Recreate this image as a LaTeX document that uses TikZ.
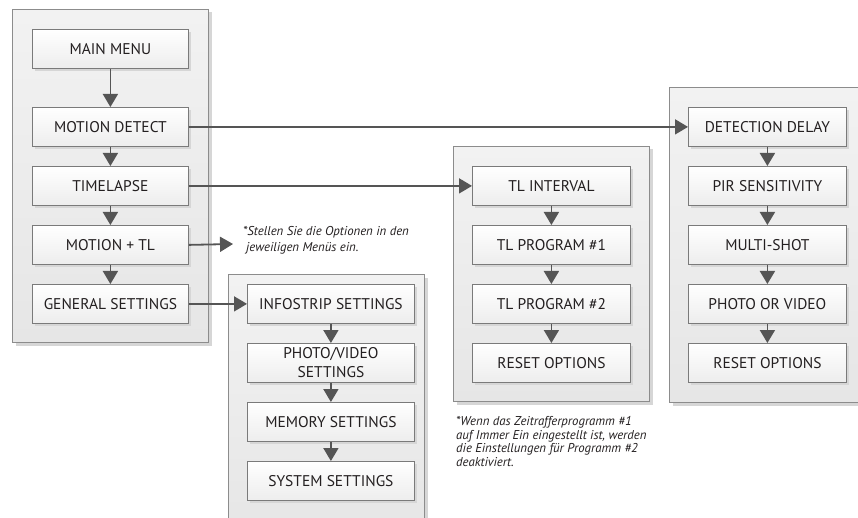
\documentclass[tikz,border=0pt]{standalone}
\usepackage{fontspec}
\setmainfont{PT Sans}
\usetikzlibrary{arrows.meta,shadows}
\definecolor{panelTop}{HTML}{F2F2F2}
\definecolor{panelBot}{HTML}{E6E6E6}
\definecolor{panelLine}{HTML}{8C8C8C}
\definecolor{boxLine}{HTML}{7A7A7A}
\definecolor{boxBot}{HTML}{EDEDED}
\definecolor{arrowC}{HTML}{555555}
\definecolor{textC}{HTML}{231F20}
\definecolor{shadowC}{HTML}{D6D6D6}
\begin{document}
\begin{tikzpicture}[x=1pt,y=-1pt,
  panel/.style={draw=panelLine, line width=1pt, top color=panelTop, bottom color=panelBot,
    inner sep=0pt, anchor=north west,
    drop shadow={shadow xshift=3pt,shadow yshift=-3pt,fill=shadowC,opacity=1}},
  menubox/.style={draw=boxLine, line width=0.8pt, top color=white, bottom color=boxBot,
    minimum height=39pt, inner sep=0pt, anchor=north west, text=textC,
    font=\fontsize{15.5}{16}\selectfont, align=center,
    drop shadow={shadow xshift=3pt,shadow yshift=-3pt,fill=shadowC,opacity=1}},
  arr/.style={draw=arrowC, line width=1.8pt, -{Triangle[length=13pt,width=15pt]}},
  note/.style={font=\fontsize{12.8}{13.5}\selectfont\itshape, text=textC, align=left, inner sep=0pt, anchor=north west}
]
\clip (0,0) rectangle (858,518);
\useasboundingbox (0,0) rectangle (858,518);
% panels
\node[panel, minimum width=196pt, minimum height=333pt] (pA) at (12,9) {};
\node[panel, minimum width=196pt, minimum height=260pt] (pB) at (228,274) {};
\node[panel, minimum width=196pt, minimum height=255pt] (pC) at (453,146) {};
\node[panel, minimum width=210pt, minimum height=315pt] (pD) at (669,87) {};
% left column
\node[menubox, minimum width=156pt] (mm) at (32,29) {MAIN MENU};
\node[menubox, minimum width=156pt] (md) at (32,107) {MOTION DETECT};
\node[menubox, minimum width=156pt] (tl) at (32,166) {TIMELAPSE};
\node[menubox, minimum width=156pt] (mt) at (32,225) {MOTION + TL};
\node[menubox, minimum width=156pt] (gs) at (32,284) {GENERAL SETTINGS};
% general settings column
\node[menubox, minimum width=167pt] (is) at (247,284) {INFOSTRIP SETTINGS};
\node[menubox, minimum width=167pt, font=\fontsize{15.5}{19}\selectfont] (pv) at (247,343) {PHOTO/VIDEO\\SETTINGS};
\node[menubox, minimum width=167pt] (ms) at (247,402) {MEMORY SETTINGS};
\node[menubox, minimum width=167pt] (ss) at (247,461) {SYSTEM SETTINGS};
% timelapse column
\node[menubox, minimum width=158pt] (ti) at (472,166) {TL INTERVAL};
\node[menubox, minimum width=158pt] (p1) at (472,225) {TL PROGRAM \#1};
\node[menubox, minimum width=158pt] (p2) at (472,284) {TL PROGRAM \#2};
\node[menubox, minimum width=158pt] (r1) at (472,343) {RESET OPTIONS};
% motion detect column
\node[menubox, minimum width=158pt] (dd) at (688,107) {DETECTION DELAY};
\node[menubox, minimum width=158pt] (pir) at (688,166) {PIR SENSITIVITY};
\node[menubox, minimum width=158pt] (msh) at (688,225) {MULTI-SHOT};
\node[menubox, minimum width=158pt] (pov) at (688,284) {PHOTO OR VIDEO};
\node[menubox, minimum width=158pt] (r2) at (688,343) {RESET OPTIONS};
% notes
\node[note, font=\fontsize{12.8}{16}\selectfont\itshape] (n1) at (243,226.5) {*Stellen Sie die Optionen in den\\\hspace*{3pt}jeweiligen Menüs ein.};
\node[note] (n2) at (456,416.5) {*Wenn das Zeitrafferprogramm \#1\\auf Immer Ein eingestellt ist, werden\\die Einstellungen für Programm \#2\\deaktiviert.};
\coordinate (mtEnd) at (233,244);
% vertical arrows
\draw[arr] (mm) -- (md);
\draw[arr] (md) -- (tl);
\draw[arr] (tl) -- (mt);
\draw[arr] (mt) -- (gs);
\draw[arr] (is) -- (pv);
\draw[arr] (pv) -- (ms);
\draw[arr] (ms) -- (ss);
\draw[arr] (ti) -- (p1);
\draw[arr] (p1) -- (p2);
\draw[arr] (p2) -- (r1);
\draw[arr] (dd) -- (pir);
\draw[arr] (pir) -- (msh);
\draw[arr] (msh) -- (pov);
\draw[arr] (pov) -- (r2);
% horizontal arrows
\draw[arr] (md.east) -- (dd.west);
\draw[arr] (tl.east) -- (ti.west);
\draw[arr] (mt.east) -- (mtEnd);
\draw[arr] (gs.east) -- (is.west);
\end{tikzpicture}
\end{document}
